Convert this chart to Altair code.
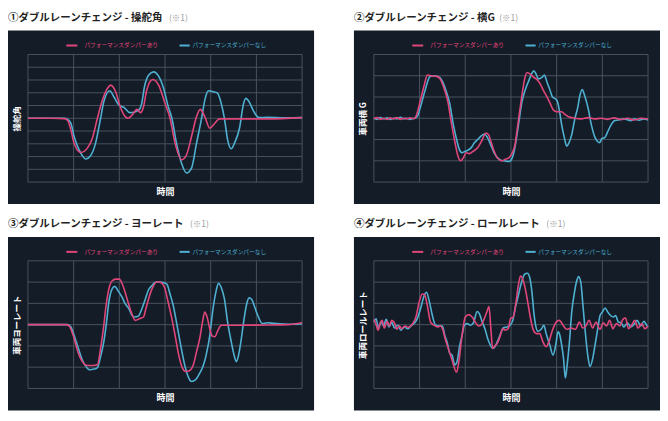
import altair as alt
import pandas as pd

SERIES = ["パフォーマンスダンパーあり", "パフォーマンスダンパーなし"]
COLORS = ["#e0467a", "#4fb0d2"]
TITLES = ["①ダブルレーンチェンジ - 操舵角", "②ダブルレーンチェンジ - 横G",
          "③ダブルレーンチェンジ - ヨーレート", "④ダブルレーンチェンジ - ロールレート"]
NOTE = "(※1)"
Y_TITLES = ["操舵角", "車両横 G", "車両ヨーレート", "車両ロールレート"]
X_TITLE = "時間"
X_GRID = [0, 1, 2, 3, 4, 5, 6]
Y_GRID_WIDE = [-5, -4, -3, -2, -1, 0, 1, 2, 3, 4, 5]
Y_GRID_NARROW = [-3, -2, -1, 0, 1, 2, 3]

# Panel 1: steering angle  (x, y)
P1_WITH = [[0, 0], [0.54, 0], [0.80, -0.03], [0.87, -0.18], [0.94, -0.91], [1.01, -1.95], [1.16, -2.68],
           [1.30, -2.34], [1.41, -1.56], [1.52, 0], [1.63, 1.43], [1.74, 2.34], [1.81, 2.6], [1.92, 2.08],
           [2.02, 0.91], [2.13, 0.13], [2.19, 0], [2.28, 0.26], [2.39, 0.70], [2.46, 0.44], [2.53, 0.91],
           [2.60, 2.21], [2.73, 3.04], [2.86, 2.6], [3.00, 1.17], [3.11, 0], [3.22, -1.95], [3.36, -3.25],
           [3.47, -2.86], [3.58, -1.43], [3.69, 0.13], [3.77, 0.70], [3.87, 0.13], [3.98, -0.78],
           [4.09, -0.39], [4.19, -0.05], [4.52, -0.05], [5.24, -0.05], [6.0, 0.05]]
P1_WITHOUT = [[0, 0], [0.54, 0], [0.80, 0], [0.87, -0.08], [0.94, -0.39], [1.01, -1.43], [1.12, -2.47],
              [1.27, -3.19], [1.37, -2.94], [1.48, -1.95], [1.59, 0], [1.66, 1.30], [1.79, 2.16], [1.88, 1.69],
              [1.99, 1.04], [2.10, 0.86], [2.23, 0.44], [2.35, 0.52], [2.44, 0.70], [2.49, 1.17], [2.55, 2.47],
              [2.64, 3.38], [2.75, 3.64], [2.86, 3.30], [2.97, 2.34], [3.07, 0.91], [3.15, 0], [3.25, -1.95],
              [3.36, -3.51], [3.47, -4.29], [3.58, -3.90], [3.69, -1.95], [3.80, 0], [3.88, 1.56], [3.95, 2.16],
              [4.05, 2.08], [4.14, 2.0], [4.23, 1.17], [4.30, 0], [4.37, -1.69], [4.45, -2.39], [4.52, -1.95],
              [4.63, -0.78], [4.72, 1.17], [4.77, 1.56], [4.84, 1.30], [4.92, 0.70], [4.99, 0.26], [5.06, 0.05],
              [5.24, 0.08], [5.60, 0.03], [6.0, 0.05]]

# Panel 2: lateral G
P2_WITH = [[0, -0.03], [0.07, 0.03], [0.14, -0.05], [0.22, 0], [0.29, -0.06], [0.36, 0.02], [0.43, -0.03],
           [0.50, 0.03], [0.58, -0.05], [0.65, 0], [0.72, -0.03], [0.79, 0.02], [0.88, -0.02], [0.92, 0.08],
           [1.01, 0.77], [1.10, 1.54], [1.17, 2.03], [1.26, 2.0], [1.37, 1.97], [1.44, 1.88], [1.55, 1.31],
           [1.62, 0.77], [1.69, -0.15], [1.77, -1.08], [1.84, -1.77], [1.90, -2.0], [1.96, -1.85],
           [2.02, -1.62], [2.09, -1.66], [2.16, -1.57], [2.27, -1.38], [2.34, -1.15], [2.39, -0.92],
           [2.45, -0.69], [2.51, -0.77], [2.56, -1.08], [2.63, -1.54], [2.70, -1.85], [2.80, -2.0],
           [2.88, -1.92], [2.96, -1.85], [3.03, -1.62], [3.09, -1.23], [3.14, -0.46], [3.19, 0.31],
           [3.23, 0.92], [3.30, 1.85], [3.35, 2.15], [3.42, 2.08], [3.50, 1.92], [3.57, 1.82], [3.64, 1.62],
           [3.71, 1.31], [3.79, 1.0], [3.86, 0.69], [3.93, 0.38], [4.00, 0.31], [4.11, 0.31], [4.18, 0.18],
           [4.25, 0.08], [4.40, 0], [4.54, -0.03], [4.69, 0.03], [4.83, -0.03], [4.97, 0], [5.12, -0.05],
           [5.26, 0.02], [5.41, -0.06], [5.55, 0], [5.70, -0.08], [5.84, 0], [6.0, -0.03]]
P2_WITHOUT = [[0, 0], [0.07, -0.05], [0.14, 0.03], [0.22, -0.03], [0.29, 0.02], [0.36, -0.06], [0.43, 0],
              [0.50, -0.03], [0.58, 0.05], [0.65, -0.03], [0.72, 0], [0.79, -0.05], [0.88, 0], [0.95, 0.08],
              [1.02, 0.54], [1.12, 1.31], [1.23, 1.97], [1.33, 2.0], [1.44, 1.92], [1.51, 1.69], [1.59, 1.23],
              [1.66, 0.69], [1.74, -0.31], [1.82, -1.08], [1.87, -1.46], [1.93, -1.62], [1.98, -1.57],
              [2.05, -1.51], [2.13, -1.38], [2.20, -1.15], [2.27, -1.0], [2.34, -0.85], [2.42, -0.74],
              [2.49, -0.92], [2.56, -1.26], [2.63, -1.62], [2.70, -1.85], [2.78, -1.97], [2.85, -2.0],
              [2.96, -2.03], [3.03, -1.85], [3.07, -1.54], [3.11, -1.08], [3.17, -0.23], [3.24, 0.77],
              [3.32, 1.38], [3.39, 1.77], [3.46, 2.12], [3.50, 2.23], [3.55, 2.08], [3.60, 1.85], [3.68, 1.92],
              [3.73, 2.03], [3.79, 1.69], [3.85, 1.35], [3.91, 1.0], [3.97, 0.92], [4.02, 0.77], [4.07, 0.23],
              [4.11, -0.31], [4.17, -0.92], [4.22, -1.31], [4.27, -1.15], [4.33, -0.77], [4.40, 0],
              [4.46, 0.49], [4.51, 1.08], [4.56, 1.35], [4.61, 1.08], [4.69, 0.46], [4.76, -0.31],
              [4.83, -0.85], [4.89, -1.08], [4.94, -1.15], [4.99, -0.95], [5.05, -0.92], [5.12, -0.62],
              [5.19, -0.31], [5.26, -0.12], [5.34, -0.08], [5.48, -0.03], [5.62, -0.11], [5.70, -0.03],
              [5.80, -0.09], [5.91, -0.03], [6.0, -0.08]]

# Panel 3: yaw rate
P3_WITH = [[0, 0], [0.54, 0], [0.83, 0], [0.90, -0.06], [0.99, -0.50], [1.08, -1.19], [1.19, -1.74],
           [1.30, -1.92], [1.41, -1.92], [1.52, -1.89], [1.59, -1.12], [1.66, -0.03], [1.71, 0.90],
           [1.77, 1.67], [1.84, 2.05], [1.92, 2.14], [2.0, 2.14], [2.08, 1.83], [2.17, 1.21], [2.26, 0.59],
           [2.35, 0.20], [2.44, 0.28], [2.53, 0.36], [2.58, 0.74], [2.64, 1.21], [2.73, 1.75], [2.82, 2.02],
           [2.91, 1.98], [2.99, 1.75], [3.07, 1.05], [3.15, 0.28], [3.22, -0.50], [3.30, -1.43],
           [3.40, -2.12], [3.45, -2.20], [3.53, -2.17], [3.62, -1.89], [3.69, -1.27], [3.76, -0.65],
           [3.82, 0.12], [3.87, 0.59], [3.92, 0.36], [3.98, -0.19], [4.03, -0.53], [4.09, -0.57],
           [4.16, -0.26], [4.23, -0.03], [4.52, -0.03], [5.24, -0.02], [5.68, 0], [6.0, 0.09]]
P3_WITHOUT = [[0, 0], [0.54, 0], [0.87, 0], [0.94, -0.11], [1.01, -0.50], [1.08, -0.96], [1.19, -1.66],
              [1.30, -2.05], [1.35, -2.12], [1.45, -2.09], [1.52, -2.02], [1.59, -1.50], [1.66, -0.81],
              [1.72, 0.12], [1.77, 1.05], [1.84, 1.67], [1.90, 1.80], [1.97, 1.60], [2.06, 1.29], [2.13, 0.98],
              [2.21, 0.74], [2.28, 0.43], [2.34, 0.36], [2.41, 0.39], [2.48, 0.67], [2.57, 1.21], [2.64, 1.64],
              [2.71, 1.83], [2.78, 1.98], [2.86, 2.02], [2.95, 1.98], [3.04, 1.91], [3.11, 1.44], [3.18, 0.90],
              [3.25, 0.12], [3.33, -0.81], [3.43, -1.89], [3.52, -2.51], [3.58, -2.67], [3.67, -2.59],
              [3.76, -2.28], [3.83, -1.97], [3.90, -1.43], [3.98, -0.50], [4.05, 0.74], [4.12, 1.60],
              [4.17, 1.95], [4.23, 1.75], [4.30, 1.21], [4.37, 0.12], [4.45, -0.81], [4.52, -1.50],
              [4.56, -1.74], [4.61, -1.43], [4.66, -0.81], [4.72, 0.12], [4.78, 0.90], [4.84, 1.26],
              [4.90, 1.18], [4.95, 0.90], [5.03, 0.43], [5.13, 0.05], [5.24, 0.09], [5.39, 0.06], [5.60, 0.03],
              [5.82, 0.02], [6.0, 0.05]]

# Panel 4: roll rate
P4_WITH = [[0, 0.25], [0.05, 0], [0.09, -0.26], [0.14, 0.09], [0.18, 0.20], [0.23, -0.16], [0.29, 0.16],
           [0.34, -0.06], [0.39, 0.20], [0.45, 0.09], [0.50, -0.22], [0.56, -0.06], [0.61, -0.19],
           [0.68, -0.06], [0.75, -0.12], [0.85, 0.05], [0.92, 0.36], [0.99, 1.05], [1.06, 1.44], [1.11, 1.40],
           [1.17, 0.90], [1.24, 0.12], [1.32, -0.03], [1.39, -0.11], [1.46, -0.06], [1.50, -0.19],
           [1.57, -0.73], [1.64, -1.19], [1.71, -1.66], [1.81, -2.23], [1.86, -1.74], [1.93, -0.50],
           [2.0, 0.36], [2.08, 0.47], [2.15, 0.36], [2.22, 0.12], [2.29, -0.06], [2.34, -0.03], [2.40, 0.20],
           [2.47, 0.59], [2.52, 0.85], [2.56, -0.19], [2.60, -1.12], [2.65, -0.99], [2.70, -0.88],
           [2.76, -0.57], [2.82, -0.19], [2.87, -0.26], [2.94, -0.19], [2.99, 0.28], [3.05, 0.36],
           [3.11, 1.05], [3.16, 1.83], [3.21, 2.29], [3.27, 2.06], [3.33, 1.52], [3.38, 0.90], [3.43, 0.28],
           [3.49, -0.26], [3.56, -0.42], [3.63, -0.42], [3.70, -0.81], [3.77, -1.04], [3.83, -0.81],
           [3.90, -0.31], [3.99, 0.12], [4.06, 0.20], [4.15, -0.06], [4.22, -0.22], [4.32, -0.16],
           [4.41, -0.22], [4.50, 0.12], [4.57, -0.16], [4.64, -0.06], [4.71, 0.20], [4.79, -0.16],
           [4.86, 0.12], [4.95, -0.22], [5.02, 0.09], [5.09, -0.06], [5.16, 0.20], [5.23, -0.19],
           [5.31, 0.05], [5.38, -0.06], [5.45, 0.25], [5.51, 0.31], [5.57, -0.19], [5.64, -0.03],
           [5.71, 0.20], [5.78, -0.16], [5.86, 0.05], [5.93, -0.19], [6.0, -0.06]]
P4_WITHOUT = [[0, 0.12], [0.05, 0.28], [0.10, -0.19], [0.16, 0.16], [0.21, -0.06], [0.27, 0.25],
              [0.33, -0.11], [0.39, 0.12], [0.45, -0.16], [0.52, -0.03], [0.59, -0.26], [0.67, -0.11],
              [0.74, -0.19], [0.81, -0.06], [0.88, 0.05], [0.95, 0.28], [1.03, 0.82], [1.10, 1.36],
              [1.15, 1.52], [1.21, 1.13], [1.28, 0.43], [1.35, -0.03], [1.42, -0.06], [1.50, -0.06],
              [1.55, -0.50], [1.61, -0.88], [1.66, -1.35], [1.71, -1.43], [1.77, -1.89], [1.82, -1.74],
              [1.88, -0.96], [1.93, -0.50], [1.98, -0.03], [2.04, 0.05], [2.11, -0.03], [2.18, 0.09],
              [2.26, 0.62], [2.31, 0.51], [2.36, 0.20], [2.44, -0.26], [2.49, -0.65], [2.55, -0.96],
              [2.60, -1.12], [2.65, -1.04], [2.70, -0.81], [2.76, -0.50], [2.83, -0.16], [2.91, -0.11],
              [2.98, -0.03], [3.04, 0.20], [3.09, 0.74], [3.16, 1.36], [3.23, 1.98], [3.30, 2.37],
              [3.36, 2.42], [3.41, 2.22], [3.46, 1.52], [3.50, 0.59], [3.54, -0.03], [3.59, -0.31],
              [3.67, -0.19], [3.72, -0.03], [3.77, -0.42], [3.85, -0.96], [3.92, -1.43], [3.98, -0.96],
              [4.03, -0.34], [4.06, -0.42], [4.11, -0.96], [4.15, -1.58], [4.19, -2.51], [4.23, -1.89],
              [4.28, -0.81], [4.33, 0.59], [4.39, 1.52], [4.44, 2.06], [4.48, 2.26], [4.53, 1.98],
              [4.57, 1.05], [4.62, -0.19], [4.68, -1.43], [4.73, -1.97], [4.79, -1.58], [4.84, -0.96],
              [4.90, -0.19], [4.95, 0.43], [5.00, 0.59], [5.06, 0.78], [5.12, 0.59], [5.18, 0.43],
              [5.24, 0.36], [5.29, 0.43], [5.35, 0.12], [5.41, 0.09], [5.47, -0.11], [5.55, 0.09],
              [5.62, -0.11], [5.69, 0], [5.76, 0.20], [5.84, -0.06], [5.91, 0.16], [5.96, 0], [6.0, -0.11]]

BG = "#131c27"
GRID = "#48525e"
W = 275
H = 128
FONT = "Noto Sans CJK JP"

one = pd.DataFrame({"k": [0]})


def text_width(s, fs):
    w = 0.0
    for ch in s:
        if ch == " ":
            w += fs * 0.25
        elif ord(ch) < 0x2000:
            w += fs * 0.5
        else:
            w += fs * 1.0
    return w


def panel(title, ytitle, with_pts, without_pts, ygrid):
    xs = alt.Scale(domain=[X_GRID[0], X_GRID[-1]], nice=False)
    ys = alt.Scale(domain=[ygrid[0], ygrid[-1]], nice=False)
    xaxis = alt.Axis(title=X_TITLE, labels=False, ticks=False, domain=False, grid=False,
                     titleColor="white", titleFontSize=9, titleFontWeight="bold", titlePadding=5,
                     titleFont=FONT, zindex=1)
    yaxis = alt.Axis(title=ytitle, labels=False, ticks=False, domain=False, grid=False,
                     titleColor="white", titleFontSize=8.5, titleFontWeight="bold", titlePadding=6,
                     titleFont=FONT, zindex=1)

    bg = alt.Chart(one).mark_rect(color=BG).encode(
        x=alt.value(-20), x2=alt.value(W + 12), y=alt.value(-24), y2=alt.value(H + 22))

    fs_t = 10.5
    ttl = alt.Chart(one).mark_text(text=title, align="left", baseline="top", fontSize=fs_t,
                                   fontWeight="bold", color="#222222", font=FONT).encode(
        x=alt.value(-20), y=alt.value(-42))
    note = alt.Chart(one).mark_text(text=NOTE, align="left", baseline="top", fontSize=8.5,
                                    color="#a0a0a0", font=FONT).encode(
        x=alt.value(-20 + text_width(title, fs_t) + 4), y=alt.value(-40.5))

    gx = alt.Chart(pd.DataFrame({"x": X_GRID})).mark_rule(color=GRID, strokeWidth=1).encode(
        x=alt.X("x:Q", scale=xs, axis=xaxis))
    gy = alt.Chart(pd.DataFrame({"y": ygrid})).mark_rule(color=GRID, strokeWidth=1).encode(
        y=alt.Y("y:Q", scale=ys, axis=yaxis))

    df_wo = pd.DataFrame(without_pts, columns=["x", "y"])
    df_w = pd.DataFrame(with_pts, columns=["x", "y"])
    line_wo = alt.Chart(df_wo).mark_line(interpolate="monotone", strokeWidth=1.6, color=COLORS[1]).encode(
        x=alt.X("x:Q", scale=xs, axis=xaxis), y=alt.Y("y:Q", scale=ys, axis=yaxis))
    line_w = alt.Chart(df_w).mark_line(interpolate="monotone", strokeWidth=1.6, color=COLORS[0]).encode(
        x=alt.X("x:Q", scale=xs, axis=xaxis), y=alt.Y("y:Q", scale=ys, axis=yaxis))

    ly = -9
    leg = []
    for i, (a, b, t) in enumerate([(0.14, 0.18, 0.206), (0.553, 0.59, 0.60)]):
        leg.append(alt.Chart(one).mark_rule(color=COLORS[i], strokeWidth=2).encode(
            x=alt.value(a * W), x2=alt.value(b * W), y=alt.value(ly)))
        leg.append(alt.Chart(one).mark_text(text=SERIES[i], align="left", baseline="middle", fontSize=5.7,
                                            color=COLORS[i], font=FONT).encode(
            x=alt.value(t * W), y=alt.value(ly)))

    return alt.layer(bg, ttl, note, gx, gy, line_wo, line_w, *leg).properties(width=W, height=H)


p1 = panel(TITLES[0], Y_TITLES[0], P1_WITH, P1_WITHOUT, Y_GRID_WIDE)
p2 = panel(TITLES[1], Y_TITLES[1], P2_WITH, P2_WITHOUT, Y_GRID_NARROW)
p3 = panel(TITLES[2], Y_TITLES[2], P3_WITH, P3_WITHOUT, Y_GRID_NARROW)
p4 = panel(TITLES[3], Y_TITLES[3], P4_WITH, P4_WITHOUT, Y_GRID_NARROW)

chart = alt.vconcat(
    alt.hconcat(p1, p2, spacing=40),
    alt.hconcat(p3, p4, spacing=40),
    spacing=15,
).properties(padding={"top": 4, "left": 0, "right": 0, "bottom": 0}).configure_view(stroke=None)

chart.save("out.html", embed_options={"renderer": "svg", "actions": False})
